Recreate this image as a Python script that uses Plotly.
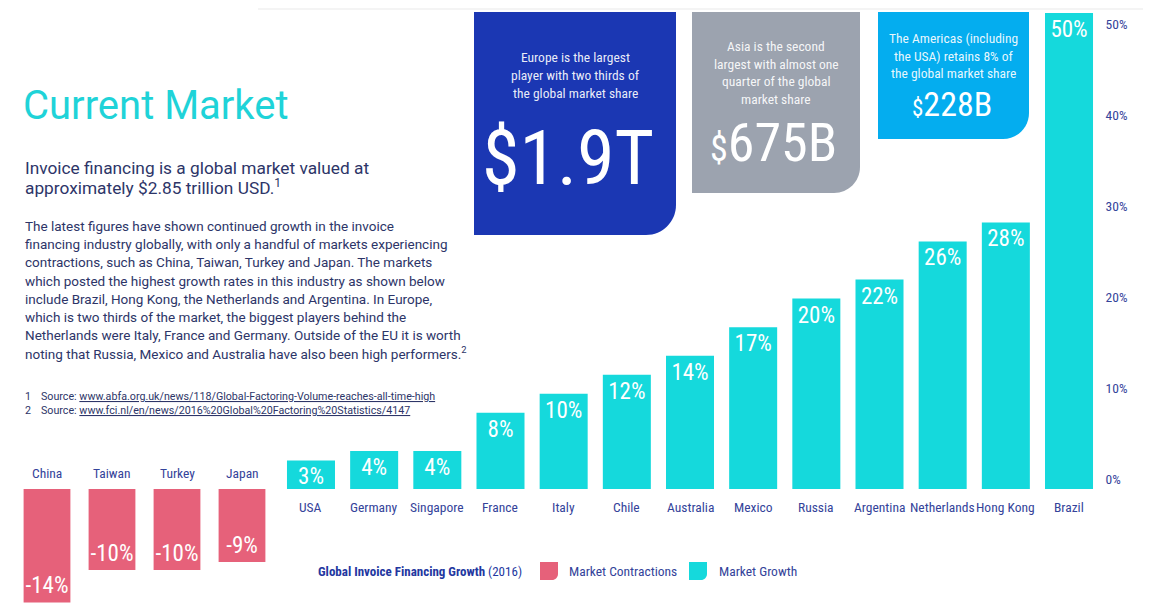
import plotly.graph_objects as go

# ---------------- data ----------------
neg_countries = ["China", "Taiwan", "Turkey", "Japan"]
neg_values = [-14, -10, -10, -9]
pos_countries = ["USA", "Germany", "Singapore", "France", "Italy", "Chile", "Australia",
                 "Mexico", "Russia", "Argentina", "Netherlands", "Hong Kong", "Brazil"]
pos_values = [3, 4, 4, 8, 10, 12, 14, 17, 20, 22, 26, 28, 50]
tick_values = [0, 10, 20, 30, 40, 50]
tick_labels = ["0%", "10%", "20%", "30%", "40%", "50%"]

# ---------------- styling ----------------
OFF = 8  # page body margin
W, H = 1151 - OFF, 603 - OFF
CYAN = "#15D9DC"
PINK = "#E6617A"
BLUE_BOX = "#1B37B3"
GRAY_BOX = "#9CA3AF"
LBLUE_BOX = "#04ADEF"
TITLE_C = "#1FD3D8"
NAVY = "#2D3568"
LABEL = "#34439A"
FC = "Liberation Sans Narrow, Roboto Condensed, DejaVu Sans Condensed, sans-serif"
FB = "Roboto, Liberation Sans, sans-serif"


def X(p):
    return (p - OFF) / W


def Y(p):
    return 1 - (p - OFF) / H


fig = go.Figure()
fig.add_bar(x=neg_countries, y=neg_values, xaxis="x2", yaxis="y2", marker_color=PINK, width=0.72,
            text=[f"{v}%" for v in neg_values], textposition="inside", insidetextanchor="end",
            textangle=0, textfont=dict(family=FC, size=23, color="white"), constraintext="none",
            hoverinfo="skip", marker_line_width=0)
fig.add_bar(x=pos_countries, y=pos_values, xaxis="x", yaxis="y", marker_color=CYAN, width=0.76,
            text=[f"{v}%" for v in pos_values], textposition="inside", insidetextanchor="end",
            textangle=0, textfont=dict(family=FC, size=23, color="white"), constraintext="none",
            hoverinfo="skip", marker_line_width=0)
fig.add_scatter(x=[pos_countries[-1]] * len(tick_values), y=tick_values, xaxis="x", yaxis="y3",
                mode="markers", marker=dict(opacity=0), hoverinfo="skip")

TOP, BOT = OFF, 603
s1 = (489 - 13) / 50.0        # growth bars: zero at px 489, 50% at px 13
s2 = 8.1                      # contraction bars: zero at px 489
s3 = (479 - 24) / 50.0        # tick labels: 0% at px 479, 50% at px 24

nx = dict(showticklabels=False, showgrid=False, zeroline=False, showline=False, ticks="",
          fixedrange=True)
fig.update_layout(
    width=W, height=H, margin=dict(l=0, r=0, t=0, b=0),
    paper_bgcolor="white", plot_bgcolor="white", showlegend=False, barmode="overlay",
    xaxis=dict(domain=[X(311 - 31.6), X(1069 + 31.6)], anchor="y", categoryorder="array",
               categoryarray=pos_countries, range=[-0.5, len(pos_countries) - 0.5], **nx),
    xaxis2=dict(domain=[X(47 - 32.5), X(242 + 32.5)], anchor="y2", categoryorder="array",
                categoryarray=neg_countries, range=[-0.5, len(neg_countries) - 0.5], **nx),
    yaxis=dict(domain=[0, 1], anchor="x", range=[-(BOT - 489) / s1, (489 - TOP) / s1],
               visible=False, fixedrange=True),
    yaxis2=dict(domain=[0, 1], anchor="x2", range=[-(BOT - 489) / s2, (489 - TOP) / s2],
                visible=False, fixedrange=True),
    yaxis3=dict(overlaying="y", side="right", anchor="x",
                range=[-(BOT - 479) / s3, (479 - TOP) / s3],
                tickvals=tick_values, ticktext=tick_labels, showgrid=False, zeroline=False,
                showline=False, ticks="", automargin=False, ticklabelstandoff=4,
                tickfont=dict(family=FC, size=13.5, color=LABEL)),
)

shapes = []


def rounded_box(x0, y0, x1, y1, r, color):
    k = 0.5523
    path = (f"M {X(x0)},{Y(y0)} L {X(x1)},{Y(y0)} L {X(x1)},{Y(y1 - r)} "
            f"C {X(x1)},{Y(y1 - r * (1 - k))} {X(x1 - r * (1 - k))},{Y(y1)} {X(x1 - r)},{Y(y1)} "
            f"L {X(x0)},{Y(y1)} Z")
    shapes.append(dict(type="path", xref="paper", yref="paper", path=path,
                       fillcolor=color, line=dict(width=0), layer="below"))


# faint top line
shapes.append(dict(type="line", xref="paper", yref="paper", x0=X(258), x1=1, y0=Y(9), y1=Y(9),
                   line=dict(color="#F4F4F4", width=2)))
rounded_box(474, 12, 676, 235, 30, BLUE_BOX)
rounded_box(692, 12, 860, 193, 26, GRAY_BOX)
rounded_box(878, 12, 1029, 139, 26, LBLUE_BOX)
# legend squares
rounded_box(540, 562, 558, 580, 6, PINK)
rounded_box(689, 562, 707, 580, 6, CYAN)

ann = []


def txt(x, y, text, size, color, family=FB, xanchor="left", xref="paper", **kw):
    ann.append(dict(x=X(x) if xref == "paper" else x, y=Y(y), xref=xref, yref="paper",
                    text=text, showarrow=False, xanchor=xanchor, yanchor="middle",
                    font=dict(family=family, size=size, color=color), **kw))


# left text block
txt(21, 106, "Current Market", 40, TITLE_C)
txt(23, 168, "Invoice financing is a global market valued at", 17.3, NAVY)
txt(23, 187, "approximately $2.85 trillion USD.<sup>1</sup>", 17.3, NAVY)
para = [
    "The latest figures have shown continued growth in the invoice",
    "financing industry globally, with only a handful of markets experiencing",
    "contractions, such as China, Taiwan, Turkey and Japan. The markets",
    "which posted the highest growth rates in this industry as shown below",
    "include Brazil, Hong Kong, the Netherlands and Argentina. In Europe,",
    "which is two thirds of the market, the biggest players behind the",
    "Netherlands were Italy, France and Germany. Outside of the EU it is worth",
    "noting that Russia, Mexico and Australia have also been high performers.<sup>2</sup>",
]
for i, line in enumerate(para):
    txt(23, 226 + i * 18.2, line, 13.5, NAVY)

txt(23, 396, "1", 10.7, NAVY)
txt(23, 410, "2", 10.7, NAVY)
txt(39, 396, "Source: <span style='text-decoration:underline'>www.abfa.org.uk/news/118/Global-Factoring-Volume-reaches-all-time-high</span>", 10.7, NAVY)
txt(39, 410, "Source: <span style='text-decoration:underline'>www.fci.nl/en/news/2016%20Global%20Factoring%20Statistics/4147</span>", 10.7, NAVY)

# boxes text
WT = "rgba(255,255,255,0.92)"
for i, line in enumerate(["Europe is the largest", "player with two thirds of", "the global market share"]):
    txt(575, 57 + i * 18, line, 13.5, WT, family=FC, xanchor="center")
txt(568, 158, "$1.9T", 76, "white", family=FC, xanchor="center")
for i, line in enumerate(["Asia is the second", "largest with almost one", "quarter of the global", "market share"]):
    txt(776, 46 + i * 17.7, line, 13.5, WT, family=FC, xanchor="center")
txt(773, 143, "<span style='font-size:36px'>$</span>675B", 54, "white", family=FC, xanchor="center")
for i, line in enumerate(["The Americas (including", "the USA) retains 8% of", "the global market share"]):
    txt(953, 38 + i * 17.6, line, 13.5, WT, family=FC, xanchor="center")
txt(952, 104, "<span style='font-size:23px'>$</span>228B", 34, "white", family=FC, xanchor="center")

# category labels
for c in neg_countries:
    txt(c, 473, c, 13.5, LABEL, family=FC, xanchor="center", xref="x2")
for c in pos_countries:
    txt(c, 507, c, 13.5, LABEL, family=FC, xanchor="center", xref="x")

# legend
txt(316, 571, "<b>Global Invoice Financing Growth</b> (2016)", 13, "#2337A0", family=FC)
txt(567, 571, "Market Contractions", 13.5, LABEL, family=FC)
txt(717, 571, "Market Growth", 13.5, LABEL, family=FC)

fig.update_layout(shapes=shapes, annotations=ann)
fig.write_html("out.html")
